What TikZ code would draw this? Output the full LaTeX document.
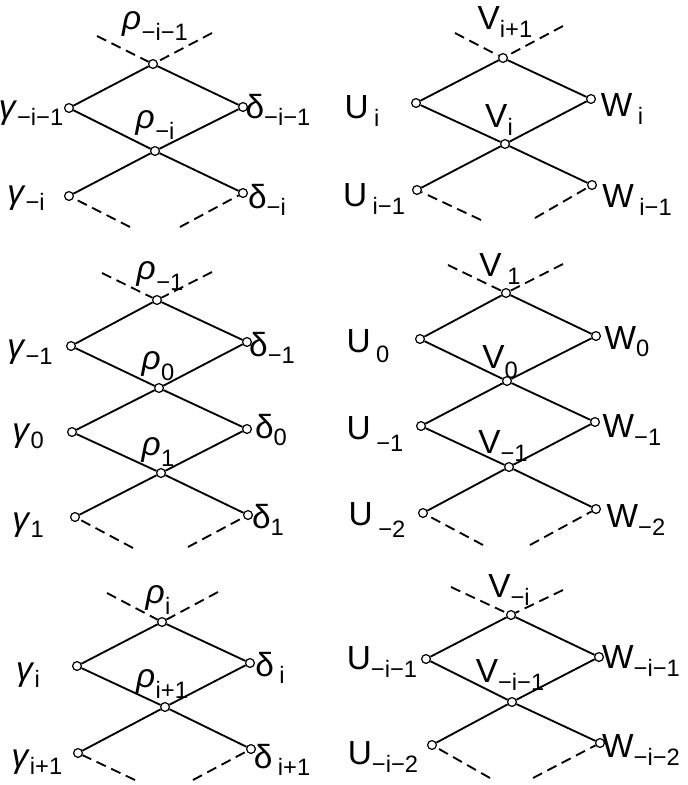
\documentclass[tikz,border=0pt]{standalone}
\usepackage{fontspec}
\setmainfont{Liberation Sans}
\usetikzlibrary{positioning}
\newcommand{\sbs}[2][4pt]{\raisebox{-#1}{\fontsize{13.5}{13.5}\selectfont #2}}
\newcommand{\gr}[1]{\textit{#1}}
\newcommand{\rh}{\gr{ρ}\kern0.3pt}

\begin{document}
\begin{tikzpicture}[
    x=0.02cm, y=-0.02cm,
    every node/.style={font=\fontsize{19}{21}\selectfont},
    dot/.style={circle, draw, fill=white, inner sep=0pt, minimum size=5pt, line width=0.7pt},
    lab/.style={inner sep=0pt},
    ln/.style={line width=1.05pt},
    dsh/.style={line width=1.05pt, dash pattern=on 5.8pt off 3.4pt},
]
\useasboundingbox (0,0) rectangle (687,785);

% top left
\node[dot] (tlr1) at (153,64) {};
\node[dot] (tlg1) at (69,108) {};
\node[dot] (tld1) at (243,107) {};
\node[dot] (tlr2) at (155,151) {};
\node[dot] (tlg2) at (69,196) {};
\node[dot] (tld2) at (243,193) {};
\coordinate (tla) at (97,36);
\coordinate (tlb) at (212,33);
\coordinate (tlc) at (130,227);
\coordinate (tld) at (180,227);
\node[lab] (tlr1l) at (155,26) {\rh\sbs[6pt]{−i−1}};
\node[lab] (tlg1l) at (31,113) {\gr{γ}\sbs{−i−1}};
\node[lab] (tld1l) at (278,110) {δ\sbs{−i−1}};
\node[lab] (tlr2l) at (155,125) {\rh\sbs[6pt]{−i}};
\node[lab] (tlg2l) at (26,198) {\gr{γ}\sbs{−i}};
\node[lab] (tld2l) at (267,200) {δ\sbs{−i}};
\draw[ln] (tlg1) -- (tlr1);
\draw[ln] (tlr1) -- (tld1);
\draw[ln] (tlg1) -- (tlr2);
\draw[ln] (tld1) -- (tlr2);
\draw[ln] (tlr2) -- (tlg2);
\draw[ln] (tlr2) -- (tld2);
\draw[dsh] (tla) -- (tlr1);
\draw[dsh] (tlb) -- (tlr1);
\draw[dsh] (tlc) -- (tlg2);
\draw[dsh] (tld) -- (tld2);

% top right
\node[dot] (trv1) at (503,58) {};
\node[dot] (tru1) at (416,103) {};
\node[dot] (trw1) at (591,99) {};
\node[dot] (trv2) at (505,144) {};
\node[dot] (tru2) at (417,190) {};
\node[dot] (trw2) at (592,185) {};
\coordinate (tra) at (455,33);
\coordinate (trb) at (563,26);
\coordinate (trc) at (481,220);
\coordinate (trd) at (535,218);
\node[lab] (trv1l) at (505,22) {V\sbs{i+1}};
\node[lab] (tru1l) at (362,111) {U\,\sbs{i}};
\node[lab] (trw1l) at (622,109) {W\,\sbs{i}};
\node[lab] (trv2l) at (499,120) {V\sbs{i}};
\node[lab] (tru2l) at (374,199) {U\,\sbs{i−1}};
\node[lab] (trw2l) at (637,200) {W\,\sbs{i−1}};
\draw[ln] (tru1) -- (trv1);
\draw[ln] (trv1) -- (trw1);
\draw[ln] (tru1) -- (trv2);
\draw[ln] (trw1) -- (trv2);
\draw[ln] (trv2) -- (tru2);
\draw[ln] (trv2) -- (trw2);
\draw[dsh] (tra) -- (trv1);
\draw[dsh] (trb) -- (trv1);
\draw[dsh] (trc) -- (tru2);
\draw[dsh] (trd) -- (trw2);

% middle left
\node[dot] (mlr1) at (157,300) {};
\node[dot] (mlg1) at (71,346) {};
\node[dot] (mld1) at (247,342) {};
\node[dot] (mlr2) at (159,388) {};
\node[dot] (mlg2) at (72,432) {};
\node[dot] (mld2) at (247,429) {};
\node[dot] (mlr3) at (161,473) {};
\node[dot] (mlg3) at (75,517) {};
\node[dot] (mld3) at (248,515) {};
\coordinate (mla) at (102,273);
\coordinate (mlb) at (212,272);
\coordinate (mlc) at (133,548);
\coordinate (mld) at (188,547);
\node[lab] (mlr1l) at (160,276) {\rh\sbs[6pt]{−1}};
\node[lab] (mlg1l) at (30,352) {\gr{γ}\sbs{−1}};
\node[lab] (mld1l) at (272,348) {δ\sbs{−1}};
\node[lab] (mlr2l) at (158,366) {\rh\sbs[6pt]{0}};
\node[lab] (mlg2l) at (28,436) {\gr{γ}\sbs{0}};
\node[lab] (mld2l) at (271,430) {δ\sbs{0}};
\node[lab] (mlr3l) at (158,452) {\rh\sbs[6pt]{1}};
\node[lab] (mlg3l) at (28,525) {\gr{γ}\sbs{1}};
\node[lab] (mld3l) at (268,520) {δ\sbs{1}};
\draw[ln] (mlg1) -- (mlr1);
\draw[ln] (mlr1) -- (mld1);
\draw[ln] (mlg1) -- (mlr2);
\draw[ln] (mld1) -- (mlr2);
\draw[ln] (mlr2) -- (mlg2);
\draw[ln] (mlr2) -- (mld2);
\draw[ln] (mlg2) -- (mlr3);
\draw[ln] (mld2) -- (mlr3);
\draw[ln] (mlr3) -- (mlg3);
\draw[ln] (mlr3) -- (mld3);
\draw[dsh] (mla) -- (mlr1);
\draw[dsh] (mlb) -- (mlr1);
\draw[dsh] (mlc) -- (mlg3);
\draw[dsh] (mld) -- (mld3);

% middle right
\node[dot] (mrv1) at (506,293) {};
\node[dot] (mru1) at (420,339) {};
\node[dot] (mrw1) at (596,336) {};
\node[dot] (mrv2) at (507,381) {};
\node[dot] (mru2) at (421,426) {};
\node[dot] (mrw2) at (595,422) {};
\node[dot] (mrv3) at (509,467) {};
\node[dot] (mru3) at (423,513) {};
\node[dot] (mrw3) at (596,509) {};
\coordinate (mra) at (448,265);
\coordinate (mrb) at (563,264);
\coordinate (mrc) at (483,545);
\coordinate (mrd) at (530,545);
\node[lab] (mrv1l) at (500,269) {V\,\sbs{1}};
\node[lab] (mru1l) at (368,346) {U\,\sbs[6pt]{0}};
\node[lab] (mrw1l) at (627,342) {W\sbs{0}};
\node[lab] (mrv2l) at (500,362) {V\sbs[6pt]{0}};
\node[lab] (mru2l) at (375,434) {U\,\sbs[7pt]{−1}};
\node[lab] (mrw2l) at (632,430) {W\sbs{−1}};
\node[lab] (mrv3l) at (503,446) {V\sbs{−1}};
\node[lab] (mru3l) at (377,520) {U\,\sbs[7pt]{−2}};
\node[lab] (mrw3l) at (636,520) {W\sbs{−2}};
\draw[ln] (mru1) -- (mrv1);
\draw[ln] (mrv1) -- (mrw1);
\draw[ln] (mru1) -- (mrv2);
\draw[ln] (mrw1) -- (mrv2);
\draw[ln] (mrv2) -- (mru2);
\draw[ln] (mrv2) -- (mrw2);
\draw[ln] (mru2) -- (mrv3);
\draw[ln] (mrw2) -- (mrv3);
\draw[ln] (mrv3) -- (mru3);
\draw[ln] (mrv3) -- (mrw3);
\draw[dsh] (mra) -- (mrv1);
\draw[dsh] (mrb) -- (mrv1);
\draw[dsh] (mrc) -- (mru3);
\draw[dsh] (mrd) -- (mrw3);

% bottom left
\node[dot] (blr1) at (162,622) {};
\node[dot] (blg1) at (77,666) {};
\node[dot] (bld1) at (250,663) {};
\node[dot] (blr2) at (165,707) {};
\node[dot] (blg2) at (78,753) {};
\node[dot] (bld2) at (251,749) {};
\coordinate (bla) at (107,593);
\coordinate (blb) at (218,592);
\coordinate (blc) at (135,780);
\coordinate (bld) at (193,780);
\node[lab] (blr1l) at (158,600) {\rh\sbs[6pt]{i}};
\node[lab] (blg1l) at (28,675) {\gr{γ}\sbs{i}};
\node[lab] (bld1l) at (270,668) {δ\,\sbs{i}};
\node[lab] (blr2l) at (162,684) {\rh\sbs[6pt]{i+1}};
\node[lab] (blg2l) at (37,762) {\gr{γ}\sbs{i+1}};
\node[lab] (bld2l) at (282,760) {δ\,\sbs{i+1}};
\draw[ln] (blg1) -- (blr1);
\draw[ln] (blr1) -- (bld1);
\draw[ln] (blg1) -- (blr2);
\draw[ln] (bld1) -- (blr2);
\draw[ln] (blr2) -- (blg2);
\draw[ln] (blr2) -- (bld2);
\draw[dsh] (bla) -- (blr1);
\draw[dsh] (blb) -- (blr1);
\draw[dsh] (blc) -- (blg2);
\draw[dsh] (bld) -- (bld2);

% bottom right
\node[dot] (brv1) at (511,615) {};
\node[dot] (bru1) at (426,659) {};
\node[dot] (brw1) at (599,657) {};
\node[dot] (brv2) at (512,702) {};
\node[dot] (bru2) at (432,745) {};
\node[dot] (brw2) at (600,743) {};
\coordinate (bra) at (451,587);
\coordinate (brb) at (563,590);
\coordinate (brc) at (490,778);
\coordinate (brd) at (533,778);
\node[lab] (brv1l) at (509,590) {V\sbs{−i}};
\node[lab] (bru1l) at (382,662) {U\sbs[5pt]{−i−1}};
\node[lab] (brw1l) at (641,661) {W\sbs{−i−1}};
\node[lab] (brv2l) at (510,675) {V\sbs{−i−1}};
\node[lab] (bru2l) at (383,757) {U\sbs[5pt]{−i−2}};
\node[lab] (brw2l) at (641,750) {W\sbs{−i−2}};
\draw[ln] (bru1) -- (brv1);
\draw[ln] (brv1) -- (brw1);
\draw[ln] (bru1) -- (brv2);
\draw[ln] (brw1) -- (brv2);
\draw[ln] (brv2) -- (bru2);
\draw[ln] (brv2) -- (brw2);
\draw[dsh] (bra) -- (brv1);
\draw[dsh] (brb) -- (brv1);
\draw[dsh] (brc) -- (bru2);
\draw[dsh] (brd) -- (brw2);
\end{tikzpicture}
\end{document}
